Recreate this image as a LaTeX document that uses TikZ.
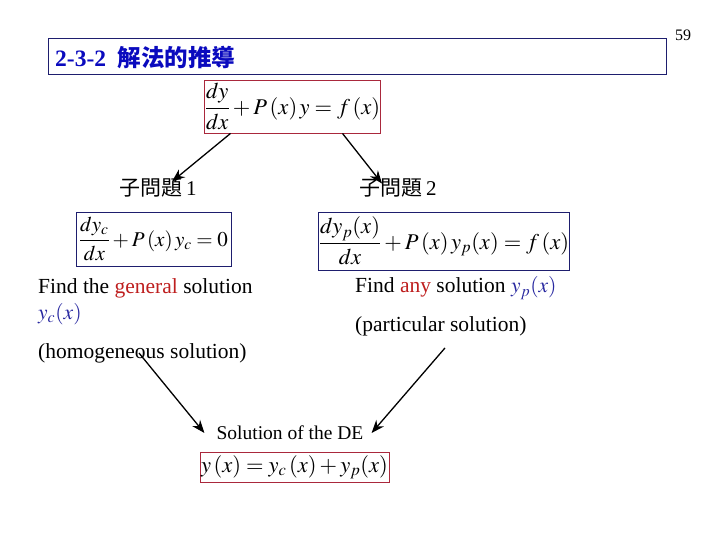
\documentclass[tikz,border=0pt]{standalone}
\usepackage{mathptmx}
\usepackage[no-math]{fontspec}
\setmainfont{Liberation Serif}
\newfontfamily\cjk{Noto Sans CJK TC}
\usepackage{xcolor}
\usepackage{tikz}
\usetikzlibrary{arrows.meta,positioning,calc}

\definecolor{boxred}{RGB}{170,40,60}
\definecolor{boxnavy}{RGB}{30,30,110}
\definecolor{titleblue}{RGB}{10,10,190}
\definecolor{wordred}{RGB}{190,30,30}
\definecolor{varblue}{RGB}{40,40,160}

\begin{document}
\begin{tikzpicture}[x=1pt,y=-1pt,
  eqbox/.style={draw, line width=0.9pt, inner sep=0pt,
                font=\fontsize{22.5}{26}\selectfont},
  redbox/.style={eqbox, draw=boxred},
  navybox/.style={eqbox, draw=boxnavy},
  txt/.style={anchor=west, inner sep=0pt, font=\fontsize{21.5}{25}\selectfont},
  sub/.style={inner sep=0pt, font=\fontsize{21}{25}\selectfont},
  arr/.style={-{Stealth[length=13pt,width=10pt]}, line width=1.3pt}
]
\useasboundingbox (0,0) rectangle (720,540);

\node[draw=boxnavy, line width=0.9pt, minimum width=618pt, minimum height=36pt,
      inner sep=0pt] (titlebox) at (357,56) {};
\node[anchor=west, inner sep=0pt, text=titleblue,
      font=\fontsize{23.5}{27}\selectfont\bfseries] (title) at (55,57)
      {2-3-2\ \ {\cjk 解法的推導}};
\node[inner sep=0pt, font=\fontsize{16}{18}\selectfont] (pageno) at (683,35) {59};

\node[redbox, minimum width=175pt, minimum height=53pt] (top) at (292.5,106.5)
  {$\displaystyle\frac{dy}{dx}+P\left(x\right)y=f\left(x\right)$};

\node[sub] (sub1) at (158,188) {{\cjk 子問題}\,1};
\node[sub] (sub2) at (398,188) {{\cjk 子問題}\,2};

\node[navybox, minimum width=155pt, minimum height=54pt,
      font=\fontsize{21}{25}\selectfont] (eqc) at (153.5,239)
  {$\displaystyle\frac{dy_c}{dx}+P\left(x\right)y_c=0$};
\node[navybox, minimum width=250pt, minimum height=58pt] (eqp) at (444,241)
  {$\displaystyle\frac{dy_p(x)}{dx}+P\left(x\right)y_p(x)=f\left(x\right)$};

\node[txt] (findc) at (38,288) {Find the \textcolor{wordred}{general} solution};
\node[txt] (yc)    at (38,314) {\textcolor{varblue}{$y_c(x)$}};
\node[txt] (homo)  at (38,353) {(homogeneous solution)};
\node[txt] (findp) at (355,288)
  {Find \textcolor{wordred}{any} solution \textcolor{varblue}{$y_p(x)$}};
\node[txt] (part)  at (355,326) {(particular solution)};

\node[inner sep=0pt, font=\fontsize{19.5}{22}\selectfont] (sol) at (290,433)
  {Solution of the DE};
\node[redbox, minimum width=189pt, minimum height=30pt] (final) at (294.5,467)
  {$y\left(x\right)=y_c\left(x\right)+y_p(x)$};

\draw[arr] ([xshift=-62pt]top.south) -- ([xshift=14pt,yshift=-3pt]sub1.north);
\draw[arr] ([xshift=50pt]top.south) -- ([xshift=-16pt,yshift=-5pt]sub2.north);
\draw[arr] ([xshift=101pt,yshift=-10pt]homo.north west) -- ([xshift=-12pt]sol.west);
\draw[arr] ([xshift=90pt,yshift=-12pt]part.south west) -- ([xshift=8pt]sol.east);
\end{tikzpicture}
\end{document}
